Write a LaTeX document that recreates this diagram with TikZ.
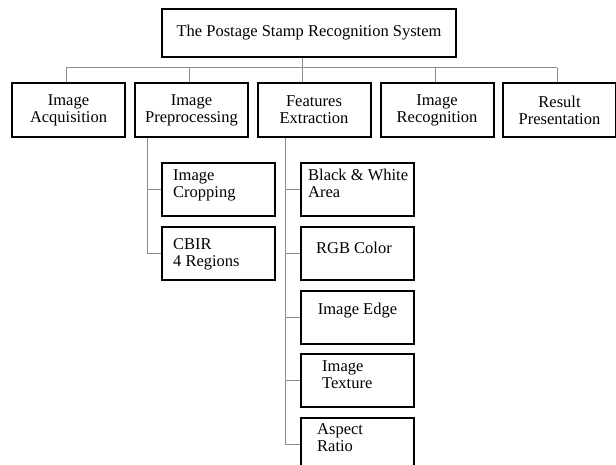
\documentclass[tikz,border=0pt]{standalone}
\usepackage{fontspec}
\setmainfont{Liberation Serif}
\begin{document}
\begin{tikzpicture}[x=1pt,y=-1pt,
  box/.style={draw=black, line width=2pt, minimum width=113pt, minimum height=54pt, inner sep=0pt, align=center, font=\fontsize{16.5}{17}\selectfont},
  subbox/.style={draw=black, line width=2pt, minimum width=113pt, minimum height=53pt, inner sep=0pt},
  lbl/.style={inner sep=0pt, align=left, anchor=north west, font=\fontsize{16.5}{17}\selectfont},
  clbl/.style={inner sep=0pt, font=\fontsize{16.5}{17}\selectfont},
  link/.style={draw=black!45, line width=1pt}]
\useasboundingbox (0,0) rectangle (616,465);
\clip (0,0) rectangle (616,465);
% top
\node[box, minimum width=294pt, minimum height=48pt] (top) at (309,33) {The Postage Stamp Recognition System};
% level 1
\node[box] (l1) at (68.5,110) {Image\\Acquisition};
\node[box] (l2) at (191.5,110) {Image\\Preprocessing};
\node[box] (l3) at (314,110) {Features\\Extraction};
\node[box] (l4) at (437,110) {Image\\Recognition};
\node[box] (l5) at (559.5,110) {Result\\Presentation};
% bus
\coordinate (d1) at (66,68);
\coordinate (d2) at (189,68);
\coordinate (d3) at (302,68);
\coordinate (d4) at (435,68);
\coordinate (d5) at (557,68);
\draw[link] (d1) -- (d5);
\draw[link] (d3 |- top.south) -- (d3);
\foreach \i in {1,...,5} {\draw[link] (d\i) -- (d\i |- l\i.north);}
% preprocessing sub boxes
\node[subbox] (s1) at (218.5,190) {};
\node[subbox] (s2) at (218.5,253.5) {};
\node[lbl] (s1t) at (173,169) {Image\\Cropping};
\node[lbl] (s2t) at (173,238) {CBIR\\4 Regions};
\coordinate (p0) at (147,0);
\draw[link] (p0 |- l2.south) |- (s2.west);
\draw[link] (p0 |- s1.west) -- (s1.west);
% features sub boxes
\node[subbox] (f1) at (357,190) {};
\node[subbox] (f2) at (357,253.5) {};
\node[subbox] (f3) at (357,317) {};
\node[subbox] (f4) at (357,380.5) {};
\node[subbox] (f5) at (357,444) {};
\node[lbl] (f1t) at (308,169) {Black \& White\\Area};
\node[clbl] (f2t) at (354,248) {RGB Color};
\node[clbl] (f3t) at (357.5,311) {Image Edge};
\node[lbl] (f4t) at (322,360) {Image\\Texture};
\node[lbl] (f5t) at (317,423) {Aspect\\Ratio};
\coordinate (q0) at (285,0);
\draw[link] (q0 |- l3.south) |- (f5.west);
\foreach \i in {1,...,4} {\draw[link] (q0 |- f\i.west) -- (f\i.west);}
\end{tikzpicture}
\end{document}
